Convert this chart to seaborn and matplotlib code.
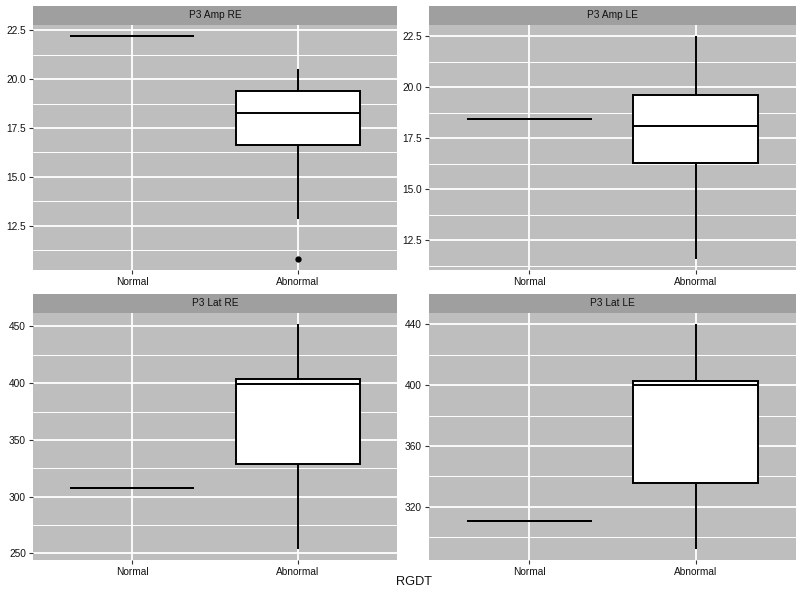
import numpy as np
import pandas as pd
import matplotlib
matplotlib.use('Agg')
import matplotlib.pyplot as plt
import seaborn as sns
from matplotlib.patches import Rectangle
from matplotlib.ticker import MultipleLocator

# groups on the x axis
groups = ['Normal', 'Abnormal']

# raw values per facet (quartiles, whiskers, outliers)
amp_re_normal = [22.2]
amp_re_abnormal = [10.8, 12.85, 16.65, 16.65, 18.25, 19.4, 19.4, 20.5, 20.5]
amp_le_normal = [18.45]
amp_le_abnormal = [11.6, 16.3, 18.1, 19.6, 22.5]
lat_re_normal = [308]
lat_re_abnormal = [254, 328.5, 399.5, 404, 452]
lat_le_normal = [310.5]
lat_le_abnormal = [292.5, 335.5, 400, 403, 440]

facet_titles = ['P3 Amp RE', 'P3 Amp LE', 'P3 Lat RE', 'P3 Lat LE']
facet_steps = [2.5, 2.5, 50, 40]

PANEL_BG = '#bebebe'
STRIP_BG = '#9f9f9f'
TEXT_COL = '#111111'

sns.set_style('darkgrid', {'axes.facecolor': PANEL_BG, 'grid.color': 'white'})
plt.rcParams['font.family'] = ['Liberation Sans', 'DejaVu Sans']


def make_df(normal, abnormal):
    return pd.DataFrame({
        'RGDT': ['Normal'] * len(normal) + ['Abnormal'] * len(abnormal),
        'value': list(normal) + list(abnormal),
    })


facet_data = [
    make_df(amp_re_normal, amp_re_abnormal),
    make_df(amp_le_normal, amp_le_abnormal),
    make_df(lat_re_normal, lat_re_abnormal),
    make_df(lat_le_normal, lat_le_abnormal),
]

W, H = 800, 596
fig = plt.figure(figsize=(W / 100, H / 100), dpi=100)
fig.patch.set_facecolor('white')

# panel boxes in pixels: (left, top, right, bottom)
panels_px = [
    (33, 25, 397, 270),
    (429, 25, 796, 270),
    (33, 313, 397, 560),
    (429, 313, 796, 560),
]
strip_px = 19

for df, title, step, (l, t, r, b) in zip(facet_data, facet_titles, facet_steps, panels_px):
    ax = fig.add_axes([l / W, (H - b) / H, (r - l) / W, (b - t) / H])
    sns.boxplot(data=df, x='RGDT', y='value', order=groups, ax=ax,
                color='white', saturation=1, linecolor='black', linewidth=1.4,
                width=0.75, showcaps=False,
                flierprops=dict(marker='o', markerfacecolor='black',
                                markeredgecolor='black', markersize=3.5))
    ax.set_xlim(-0.6, 1.6)
    ax.margins(y=0.05)
    ax.yaxis.set_major_locator(MultipleLocator(step))
    ax.yaxis.set_minor_locator(MultipleLocator(step / 2))
    ax.set_axisbelow(True)
    ax.grid(which='major', color='white', linewidth=1.3)
    ax.grid(which='minor', axis='y', color='white', linewidth=0.7)
    ax.grid(which='major', axis='x', color='white', linewidth=1.3)
    ax.tick_params(which='minor', length=0)
    ax.tick_params(which='major', length=3, width=0.8, color='#333333',
                   labelsize=7.3, labelcolor=TEXT_COL, pad=2,
                   left=True, bottom=True)
    if step == 2.5:
        ax.yaxis.set_major_formatter(matplotlib.ticker.FormatStrFormatter('%.1f'))
    ax.set_xlabel('')
    ax.set_ylabel('')
    for s in ax.spines.values():
        s.set_visible(False)
    h = strip_px / (b - t)
    ax.add_patch(Rectangle((0, 1), 1, h, transform=ax.transAxes, clip_on=False,
                           facecolor=STRIP_BG, edgecolor='none'))
    ax.text(0.5, 1 + h / 2, title, transform=ax.transAxes, ha='center',
            va='center', fontsize=7.3, color=TEXT_COL)

fig.text(414 / W, (H - 582) / H, 'RGDT', ha='center', va='center',
         fontsize=9.2, color=TEXT_COL)

fig.savefig('out.png', dpi=100, facecolor='white')
